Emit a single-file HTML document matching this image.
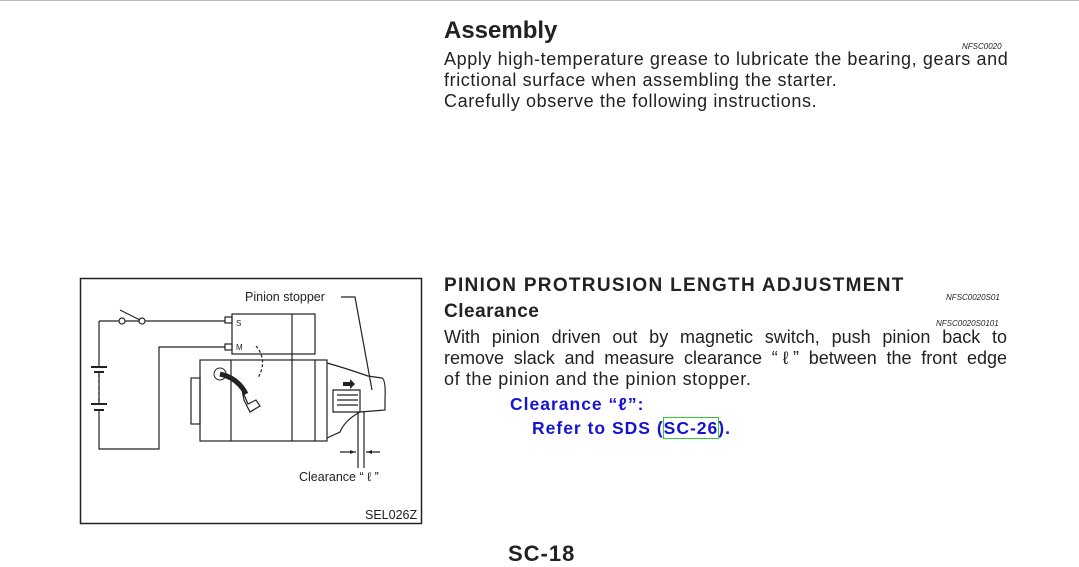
<!DOCTYPE html>
<html><head><meta charset="utf-8"><style>
body{margin:0;width:1079px;height:565px;background:#fff;position:relative;overflow:hidden;font-family:"Liberation Sans",Arial,sans-serif;color:#222}
.a{position:absolute;white-space:nowrap}
.b{font-size:18px;line-height:21px;letter-spacing:0.6px}
.j{width:563px;text-align:justify;text-align-last:justify;letter-spacing:0}
.s{font-size:8px;font-style:italic}
</style></head><body>
<div class="a" style="left:0;top:0;width:1079px;height:1px;background:#bbb"></div>
<div class="a" style="left:444px;top:17px;font-size:24px;font-weight:bold">Assembly</div>
<div class="a s" style="left:962px;top:42px">NFSC0020</div>
<div class="a b" style="left:444px;top:49px">Apply high-temperature grease to lubricate the bearing, gears and</div>
<div class="a b" style="left:444px;top:70px">frictional surface when assembling the starter.</div>
<div class="a b" style="left:444px;top:91px">Carefully observe the following instructions.</div>

<div class="a" style="left:444px;top:275px;font-size:19px;font-weight:bold;letter-spacing:1.3px">PINION PROTRUSION LENGTH ADJUSTMENT</div>
<div class="a s" style="left:946px;top:293px">NFSC0020S01</div>
<div class="a" style="left:444px;top:301px;font-size:19px;font-weight:bold;letter-spacing:0.5px">Clearance</div>
<div class="a s" style="left:936px;top:319px">NFSC0020S0101</div>
<div class="a b j" style="left:444px;top:327px">With pinion driven out by magnetic switch, push pinion back to</div>
<div class="a b j" style="left:444px;top:348px">remove slack and measure clearance “ℓ” between the front edge</div>
<div class="a b" style="left:444px;top:369px">of the pinion and the pinion stopper.</div>
<div class="a" style="left:510px;top:394px;font-size:17.5px;font-weight:bold;color:#1515d0;letter-spacing:1px">Clearance “ℓ”:</div>
<div class="a" style="left:532px;top:418px;font-size:17.5px;font-weight:bold;color:#1515d0;letter-spacing:1px">Refer to SDS (<span style="outline:1px solid #3c3">SC-26</span>).</div>
<div class="a" style="left:508px;top:541px;font-size:22px;font-weight:bold;letter-spacing:1px">SC-18</div>

<svg class="a" style="left:0;top:0" width="1079" height="565" viewBox="0 0 1079 565">
<g fill="none" stroke="#222" stroke-width="1.2">
<rect x="80.5" y="278.5" width="341" height="245" stroke-width="1.5"/>
<path d="M99 321H119M125 321H139M145 321H225"/>
<circle cx="122" cy="321" r="3"/><circle cx="142" cy="321" r="3"/>
<path d="M120 310L140 320"/>
<path d="M99 321V366M99 373V404M99 410V449H159V347H225"/>
<path d="M91 367H107M94 372H104" stroke-width="2"/>
<path d="M99 374V402" stroke-dasharray="3 3"/>
<path d="M91 404H107M94 410H104" stroke-width="2"/>
<rect x="225" y="317" width="7" height="6"/><rect x="225" y="344" width="7" height="6"/>
<rect x="232" y="314" width="83" height="40"/><path d="M292 314V360"/>
<rect x="200" y="360" width="127" height="81"/><path d="M231 360V441M292 360V441M315 360V441"/>
<rect x="191" y="378" width="9" height="46"/>
<path d="M327 363Q345 368 368 376L382 378Q386 380 385 400V410L360 412Q345 420 340 432L327 438"/>
<path d="M333 390H360V412H333Z"/>
<path d="M337 395H358M337 400H358M337 405H358"/>
<path d="M358 412V468M364 412V468"/>
<path d="M340 452H356M380 452H366"/>
<path d="M341 297L355 297L372 390"/>
<path d="M256 346Q268 360 258 378" stroke-dasharray="3 2"/>
<path d="M242 390L248 404L256 400L260 406L250 412L244 400Z"/>
</g>
<path d="M220 374Q238 378 246 394" stroke="#222" stroke-width="5" fill="none"/>
<circle cx="220" cy="374" r="6" fill="none" stroke="#222"/>
<path d="M343 382H350V379L355 384L350 389V386H343Z" fill="#222"/>
<path d="M355 452l-5-2v4zM367 452l5-2v4z" fill="#222"/>
<text x="245" y="301" font-size="12.5" fill="#222" font-family="Liberation Sans">Pinion stopper</text>
<text x="236" y="326" font-size="8" fill="#222" font-family="Liberation Sans">S</text>
<text x="236" y="350" font-size="8" fill="#222" font-family="Liberation Sans">M</text>
<text x="299" y="481" font-size="12.5" fill="#222" font-family="Liberation Sans">Clearance “ ℓ ”</text>
<text x="365" y="519" font-size="12.5" fill="#222" font-family="Liberation Sans">SEL026Z</text>
</svg>
</body></html>
